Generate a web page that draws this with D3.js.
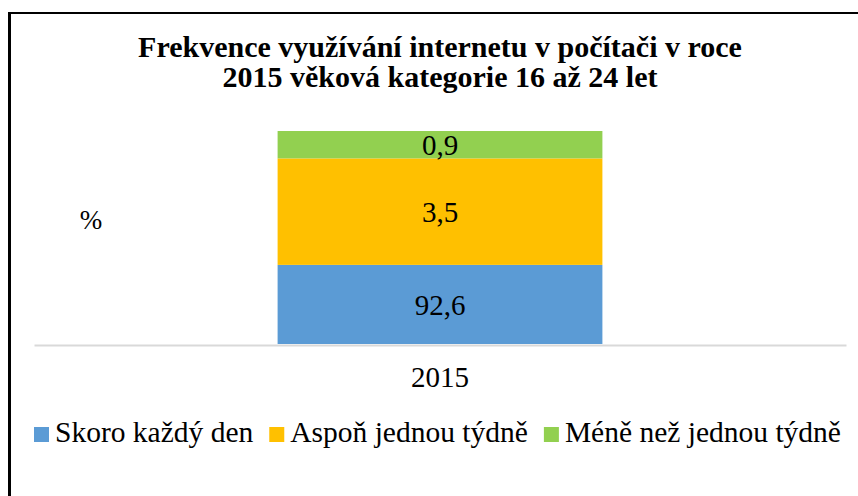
<!DOCTYPE html>
<html>
<head>
<meta charset="utf-8">
<script src="https://cdn.jsdelivr.net/npm/d3@7"></script>
<style>
  body { margin: 0; background: #fff; }
  svg text { font-family: 'Liberation Serif', 'Times New Roman', serif; fill: #000; }
</style>
</head>
<body>
<svg width="858" height="496"></svg>
<script>
/* global d3:true */

const titleLines = ['Frekvence využívání internetu v počítači v roce', '2015 věková kategorie 16 až 24 let']
const years = ['2015']
const seriesNames = ['Skoro každý den', 'Aspoň jednou týdně', 'Méně než jednou týdně']
const seriesColors = ['#5b9bd5', '#ffc000', '#92d050']
const dailyValues = [92.6]
const weeklyValues = [3.5]
const lessValues = [0.9]
const yBounds = [90, 97]
const yLabel = '%'

const svg = d3.select('svg')
const width = +svg.attr('width')
const height = +svg.attr('height')
const plot = { left: 34, right: 846, top: 131, bottom: 344 }

const czech = d3.formatLocale({ decimal: ',', thousands: ' ', grouping: [3], currency: ['', ''] })
const fmt = czech.format('.1f')

// frame (only left and top edges are visible in the reference)
svg.append('line')
  .attr('x1', 9.5).attr('y1', 12).attr('x2', 9.5).attr('y2', height)
  .attr('stroke', '#000').attr('stroke-width', 3)
svg.append('line')
  .attr('x1', 8).attr('y1', 13).attr('x2', width).attr('y2', 13)
  .attr('stroke', '#000').attr('stroke-width', 2)

// title
svg.append('g').selectAll('text')
  .data(titleLines)
  .enter().append('text')
  .attr('x', 440)
  .attr('y', (d, i) => 57 + i * 30)
  .attr('text-anchor', 'middle')
  .style('font-size', '30px')
  .style('font-weight', 'bold')
  .text((d) => d)

const table = years.map((yr, i) => ({
  year: yr,
  [seriesNames[0]]: dailyValues[i],
  [seriesNames[1]]: weeklyValues[i],
  [seriesNames[2]]: lessValues[i]
}))

const stacked = d3.stack().keys(seriesNames)(table)

const x = d3.scaleBand()
  .domain(years)
  .range([plot.left, plot.right])
  .paddingInner(0)
  .paddingOuter(0.75)

const y = d3.scaleLinear()
  .domain(yBounds)
  .range([plot.bottom, plot.top])
  .clamp(true)

const color = d3.scaleOrdinal().domain(seriesNames).range(seriesColors)

const layers = svg.append('g').selectAll('g')
  .data(stacked)
  .enter().append('g')
  .attr('fill', (s) => color(s.key))

layers.selectAll('rect')
  .data((s) => s)
  .enter().append('rect')
  .attr('x', (d) => x(d.data.year))
  .attr('y', (d) => y(d[1]))
  .attr('width', x.bandwidth())
  .attr('height', (d) => y(d[0]) - y(d[1]))

layers.selectAll('text')
  .data((s) => s.map((d) => Object.assign({ key: s.key }, d)))
  .enter().append('text')
  .attr('x', (d) => x(d.data.year) + x.bandwidth() / 2)
  .attr('y', (d) => (y(d[0]) + y(d[1])) / 2)
  .attr('dy', '0.35em')
  .attr('text-anchor', 'middle')
  .style('font-size', '29px')
  .text((d) => fmt(d.data[d.key]))

// x axis
const xAxis = svg.append('g')
  .attr('transform', 'translate(0,' + (plot.bottom + 1) + ')')
  .call(d3.axisBottom(x).tickSize(0).tickSizeOuter(0))
xAxis.select('.domain').attr('stroke', '#d9d9d9').attr('stroke-width', 2)
xAxis.selectAll('text')
  .attr('y', 42)
  .attr('dy', 0)
  .attr('fill', '#000')
  .style('font-size', '29px')
  .style('font-family', "'Liberation Serif', 'Times New Roman', serif")

// y axis title
svg.append('text')
  .attr('x', 91)
  .attr('y', 229)
  .attr('text-anchor', 'middle')
  .style('font-size', '27px')
  .text(yLabel)

// legend
const legend = svg.append('g')
let lx = 34
seriesNames.forEach((name, i) => {
  legend.append('rect')
    .attr('x', lx).attr('y', 427)
    .attr('width', 15).attr('height', 15)
    .attr('fill', seriesColors[i])
  const t = legend.append('text')
    .attr('x', lx + 21)
    .attr('y', 442)
    .style('font-size', '29.5px')
    .text(name)
  lx += 21 + t.node().getComputedTextLength() + 16
})
</script>
</body>
</html>
